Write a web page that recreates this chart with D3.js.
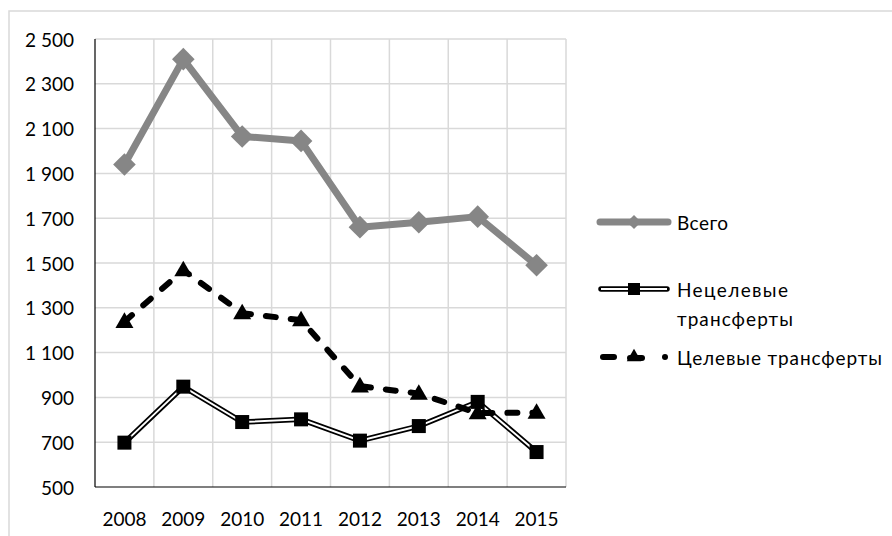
<!DOCTYPE html>
<html>
<head>
<meta charset="utf-8">
<script src="https://cdn.jsdelivr.net/npm/d3@7"></script>
<style>
  body { margin: 0; background: #fff; }
  text { font-family: Lato, "Noto Sans", sans-serif; fill: #000; }
</style>
</head>
<body>
<script>
var years = ["2008","2009","2010","2011","2012","2013","2014","2015"];
var total = [1940, 2410, 2065, 2045, 1660, 1682, 1707, 1490];
var nonTarget = [698, 948, 790, 802, 707, 772, 880, 656];
var target = [1238, 1468, 1276, 1245, 950, 917, 830, 832];
var yTicks = [500,700,900,1100,1300,1500,1700,1900,2100,2300,2500];
var seriesNames = ["Всего", "Нецелевые трансферты", "Целевые трансферты"];

var W = 892, H = 536;
var plotL = 95, plotR = 566, plotT = 39, plotB = 487;

var svg = d3.select("body").append("svg").attr("width", W).attr("height", H);

// chart frame
svg.append("rect")
  .attr("x", 9).attr("y", 11)
  .attr("width", W + 10).attr("height", H + 10)
  .attr("fill", "none").attr("stroke", "#d9d9d9").attr("stroke-width", 1.5);

var x = d3.scaleBand().domain(years).range([plotL, plotR]);
var y = d3.scaleLinear().domain([500, 2500]).range([plotB, plotT]);
function cx(d, i) { return x(years[i]) + x.bandwidth() / 2; }

// horizontal gridlines
svg.append("g").selectAll("line")
  .data(yTicks.slice(1)).enter().append("line")
  .attr("x1", plotL).attr("x2", plotR)
  .attr("y1", function (d) { return y(d); })
  .attr("y2", function (d) { return y(d); })
  .attr("stroke", "#d9d9d9").attr("stroke-width", 1.5);

// vertical gridlines at band edges
svg.append("g").selectAll("line")
  .data(years).enter().append("line")
  .attr("x1", function (d) { return x(d) + x.bandwidth(); })
  .attr("x2", function (d) { return x(d) + x.bandwidth(); })
  .attr("y1", plotT).attr("y2", plotB)
  .attr("stroke", "#d9d9d9").attr("stroke-width", 1.5);

// axes
svg.append("line").attr("x1", plotL).attr("x2", plotL).attr("y1", plotT).attr("y2", plotB)
  .attr("stroke", "#000").attr("stroke-width", 1.2);
svg.append("line").attr("x1", plotL).attr("x2", plotR).attr("y1", plotB).attr("y2", plotB)
  .attr("stroke", "#000").attr("stroke-width", 1.2);

var fmt = function (d) { return d3.format(",")(d).replace(",", " "); };

svg.append("g").selectAll("text")
  .data(yTicks).enter().append("text")
  .attr("x", 74).attr("y", function (d) { return y(d); })
  .attr("text-anchor", "end").attr("dominant-baseline", "central")
  .attr("font-size", 19)
  .text(fmt);

svg.append("g").selectAll("text")
  .data(years).enter().append("text")
  .attr("x", function (d) { return x(d) + x.bandwidth() / 2; })
  .attr("y", 518)
  .attr("text-anchor", "middle").attr("dominant-baseline", "central")
  .attr("font-size", 19)
  .text(function (d) { return d; });

var line = d3.line().x(cx).y(function (d) { return y(d); });

// Всего
svg.append("path").datum(total).attr("d", line)
  .attr("fill", "none").attr("stroke", "#868686").attr("stroke-width", 7)
  .attr("stroke-linejoin", "round");
svg.append("g").selectAll("rect")
  .data(total).enter().append("rect")
  .attr("x", -8).attr("y", -8).attr("width", 16).attr("height", 16)
  .attr("transform", function (d, i) { return "translate(" + cx(d, i) + "," + y(d) + ") rotate(45)"; })
  .attr("fill", "#868686");

// Нецелевые (double line)
svg.append("path").datum(nonTarget).attr("d", line)
  .attr("fill", "none").attr("stroke", "#000").attr("stroke-width", 5.5);
svg.append("path").datum(nonTarget).attr("d", line)
  .attr("fill", "none").attr("stroke", "#fff").attr("stroke-width", 2);
svg.append("g").selectAll("rect")
  .data(nonTarget).enter().append("rect")
  .attr("x", function (d, i) { return cx(d, i) - 7; })
  .attr("y", function (d) { return y(d) - 7; })
  .attr("width", 14).attr("height", 14).attr("fill", "#000");

// Целевые (dashed)
svg.append("path").datum(target).attr("d", line)
  .attr("fill", "none").attr("stroke", "#000").attr("stroke-width", 6)
  .attr("stroke-linecap", "round").attr("stroke-dasharray", "10,15");
svg.append("g").selectAll("path")
  .data(target).enter().append("path")
  .attr("d", d3.symbol().type(d3.symbolTriangle).size(140))
  .attr("transform", function (d, i) { return "translate(" + cx(d, i) + "," + (y(d) + 1) + ")"; })
  .attr("fill", "#000");

// legend
var lg = svg.append("g");
lg.append("line").attr("x1", 600).attr("x2", 668).attr("y1", 222).attr("y2", 222)
  .attr("stroke", "#868686").attr("stroke-width", 7).attr("stroke-linecap", "round");
lg.append("rect").attr("x", -5).attr("y", -5).attr("width", 10).attr("height", 10)
  .attr("transform", "translate(634,222) rotate(45)").attr("fill", "#868686");
lg.append("text").attr("x", 677).attr("y", 222).attr("dominant-baseline", "central")
  .attr("font-size", 19).attr("textLength", 51).text(seriesNames[0]);

lg.append("line").attr("x1", 601).attr("x2", 667).attr("y1", 289).attr("y2", 289)
  .attr("stroke", "#000").attr("stroke-width", 5.5).attr("stroke-linecap", "round");
lg.append("line").attr("x1", 601).attr("x2", 667).attr("y1", 289).attr("y2", 289)
  .attr("stroke", "#fff").attr("stroke-width", 2);
lg.append("rect").attr("x", 628).attr("y", 283).attr("width", 12).attr("height", 12).attr("fill", "#000");
lg.append("text").attr("x", 677).attr("y", 289).attr("dominant-baseline", "central")
  .attr("font-size", 19).attr("textLength", 111).text("Нецелевые");
lg.append("text").attr("x", 677).attr("y", 318).attr("dominant-baseline", "central")
  .attr("font-size", 19).attr("textLength", 116).text("трансферты");

lg.append("line").attr("x1", 603).attr("x2", 614).attr("y1", 357).attr("y2", 357)
  .attr("stroke", "#000").attr("stroke-width", 6).attr("stroke-linecap", "round");
lg.append("path").attr("d", d3.symbol().type(d3.symbolTriangle).size(90))
  .attr("transform", "translate(634,357)").attr("fill", "#000");
lg.append("line").attr("x1", 630).attr("x2", 642).attr("y1", 358).attr("y2", 358)
  .attr("stroke", "#000").attr("stroke-width", 6).attr("stroke-linecap", "round");
lg.append("circle").attr("cx", 665).attr("cy", 357).attr("r", 3).attr("fill", "#000");
lg.append("text").attr("x", 677).attr("y", 357).attr("dominant-baseline", "central")
  .attr("font-size", 19).attr("textLength", 205).text(seriesNames[2]);
</script>
</body>
</html>
